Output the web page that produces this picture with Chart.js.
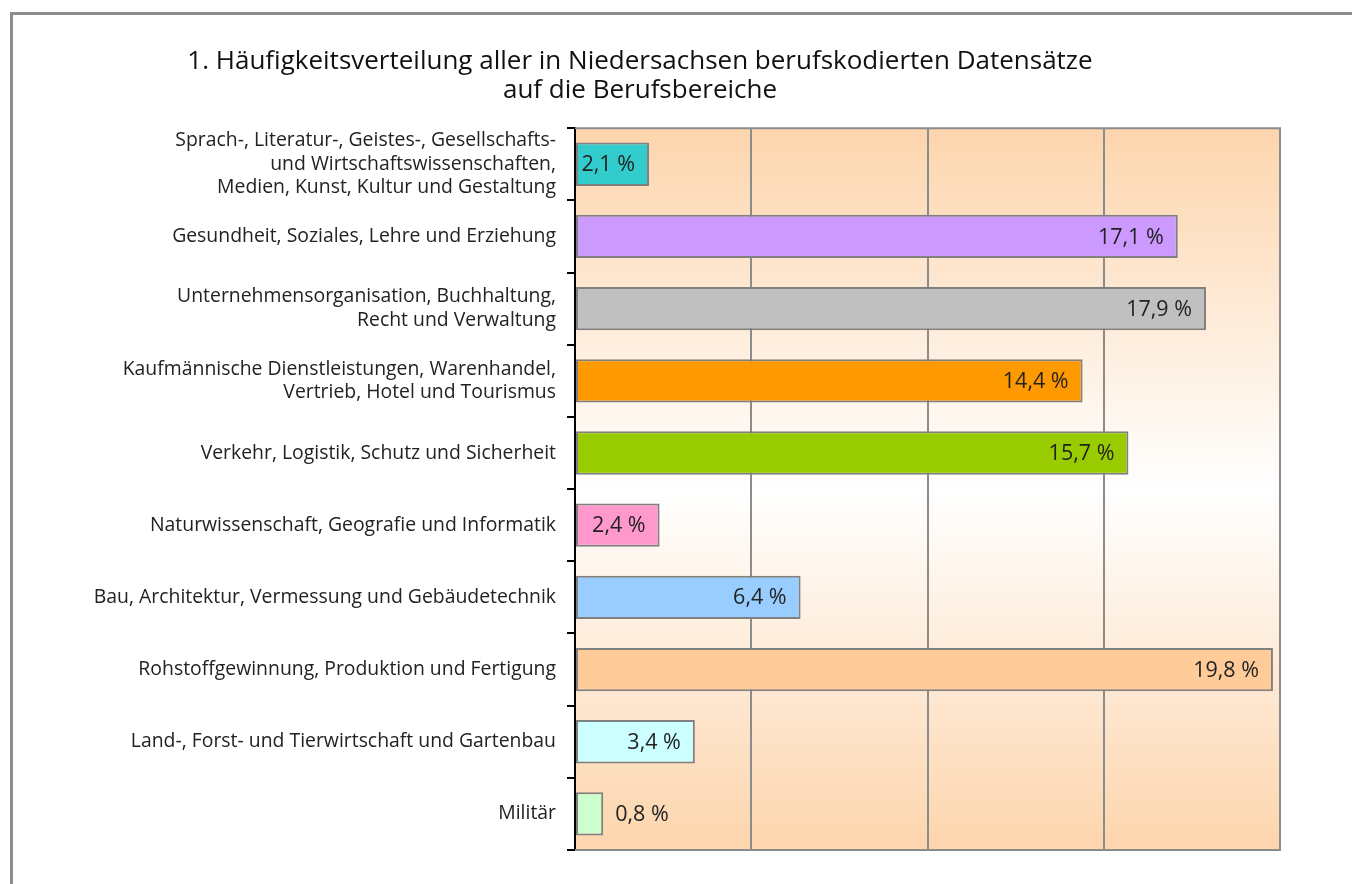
<!DOCTYPE html>
<html>
<head>
<meta charset="utf-8">
<script src="https://cdn.jsdelivr.net/npm/chart.js@4/dist/chart.umd.min.js"></script>
<style>
  body { margin: 0; background: #fff; }
  #rahmen { position: absolute; left: 10px; top: 12px; width: 1342px; height: 872px;
            border-top: 3px solid #8c8c8c; border-left: 3px solid #8c8c8c; }
  #wrap { position: absolute; left: 0; top: 0; width: 1352px; height: 884px; }
</style>
</head>
<body>
<div id="rahmen"></div>
<div id="wrap"><canvas id="grafico"></canvas></div>
<script>
// Datos
const bereiche = [
    ['Sprach-, Literatur-, Geistes-, Gesellschafts-', 'und Wirtschaftswissenschaften,', 'Medien, Kunst, Kultur und Gestaltung'],
    'Gesundheit, Soziales, Lehre und Erziehung',
    ['Unternehmensorganisation, Buchhaltung,', 'Recht und Verwaltung'],
    ['Kaufmännische Dienstleistungen, Warenhandel,', 'Vertrieb, Hotel und Tourismus'],
    'Verkehr, Logistik, Schutz und Sicherheit',
    'Naturwissenschaft, Geografie und Informatik',
    'Bau, Architektur, Vermessung und Gebäudetechnik',
    'Rohstoffgewinnung, Produktion und Fertigung',
    'Land-, Forst- und Tierwirtschaft und Gartenbau',
    'Militär'
];
const anteile = [2.1, 17.1, 17.9, 14.4, 15.7, 2.4, 6.4, 19.8, 3.4, 0.8];
const farben = ['#33cccc', '#cc99ff', '#c0c0c0', '#ff9900', '#99cc00',
                '#ff99cc', '#99ccff', '#ffcc99', '#ccffff', '#ccffcc'];
const titel = ['1. Häufigkeitsverteilung aller in Niedersachsen berufskodierten Datensätze',
               'auf die Berufsbereiche'];

const schrift = '"Open Sans", "Noto Sans", sans-serif';

// Fondo con degradado
const fondo = {
    id: 'fondo',
    beforeDraw(chart) {
        const { ctx, chartArea: a } = chart;
        const g = ctx.createLinearGradient(0, a.top, 0, a.bottom);
        g.addColorStop(0, '#fdd5ad');
        g.addColorStop(0.5, '#ffffff');
        g.addColorStop(1, '#fdd5ad');
        ctx.save();
        ctx.fillStyle = g;
        ctx.fillRect(a.left, a.top, a.right - a.left, a.bottom - a.top);
        ctx.restore();
    },
    afterDraw(chart) {
        const { ctx, chartArea: a } = chart;
        ctx.save();
        ctx.strokeStyle = '#8c8c8c';
        ctx.lineWidth = 2;
        ctx.beginPath();
        ctx.moveTo(a.left, a.top);
        ctx.lineTo(a.right, a.top);
        ctx.lineTo(a.right, a.bottom);
        ctx.lineTo(a.left, a.bottom);
        ctx.stroke();
        ctx.restore();
    }
};

// Etiquetas de valores
const etiquetas = {
    id: 'etiquetas',
    afterDatasetsDraw(chart) {
        const ctx = chart.ctx;
        const meta = chart.getDatasetMeta(0);
        ctx.save();
        ctx.font = '21.5px ' + schrift;
        ctx.fillStyle = '#222';
        ctx.textBaseline = 'middle';
        meta.data.forEach((bar, i) => {
            const txt = anteile[i].toFixed(1).replace('.', ',') + ' %';
            const w = ctx.measureText(txt).width;
            if (bar.x - bar.base > w + 14) {
                ctx.textAlign = 'right';
                ctx.fillText(txt, bar.x - 14, bar.y + 1);
            } else {
                ctx.textAlign = 'left';
                ctx.fillText(txt, bar.x + 12, bar.y + 1);
            }
        });
        ctx.restore();
    }
};

new Chart(document.getElementById('grafico'), {
    type: 'bar',
    data: {
        labels: bereiche,
        datasets: [{
            data: anteile,
            backgroundColor: farben,
            borderColor: '#808080',
            borderWidth: 2,
            borderSkipped: false,
            barPercentage: 0.6,
            categoryPercentage: 1
        }]
    },
    options: {
        indexAxis: 'y',
        responsive: true,
        maintainAspectRatio: false,
        animation: false,
        layout: { padding: { top: 48, right: 72, bottom: 34, left: 0 } },
        plugins: {
            legend: { display: false },
            tooltip: { enabled: false },
            title: {
                display: true,
                text: titel,
                color: '#111',
                font: { family: schrift, size: 26, weight: 'normal', lineHeight: 1.08 },
                padding: { top: 0, bottom: 24 }
            }
        },
        scales: {
            x: {
                min: 0,
                max: 20,
                ticks: { display: false, stepSize: 5 },
                grid: { color: '#8c8c8c', lineWidth: 2, drawTicks: false },
                border: { display: false },
                afterFit(s) { s.height = 0; }
            },
            y: {
                ticks: {
                    color: '#222',
                    padding: 11,
                    autoSkip: false,
                    font: { family: schrift, size: 19.4, lineHeight: 1.2 }
                },
                grid: { drawOnChartArea: false, color: '#000', tickLength: 8, lineWidth: 2, offset: true },
                border: { color: '#000', width: 2 },
                afterFit(s) {
                    s.width = 575;
                    s.paddingTop = 0;
                    s.paddingBottom = 0;
                }
            }
        }
    },
    plugins: [fondo, etiquetas]
});
</script>
</body>
</html>
